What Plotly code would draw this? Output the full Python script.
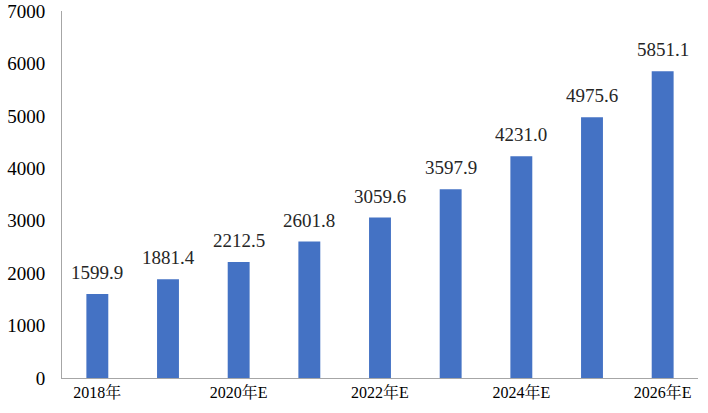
import plotly.graph_objects as go

categories = ["2018年", "2019年", "2020年E", "2021年E", "2022年E", "2023年E", "2024年E", "2025年E", "2026年E"]
values = [1599.9, 1881.4, 2212.5, 2601.8, 3059.6, 3597.9, 4231.0, 4975.6, 5851.1]
shown_ticks = categories[::2]
y_ticks = [0, 1000, 2000, 3000, 4000, 5000, 6000, 7000]

serif = "'Liberation Serif', 'Times New Roman', 'Noto Serif CJK SC', 'Noto Sans CJK SC', serif"

fig = go.Figure()
fig.add_trace(go.Bar(
    x=categories, y=values,
    marker=dict(color="#4472C4", line=dict(width=0)),
    width=0.31,
    hoverinfo="x+y",
))

for c, v in zip(categories, values):
    fig.add_annotation(
        x=c, y=v, text=f"{v:.1f}", showarrow=False,
        yanchor="bottom", yshift=9,
        font=dict(family=serif, size=19, color="#262626"),
    )

fig.update_layout(
    width=708, height=413,
    margin=dict(l=62, r=10, t=11, b=35, autoexpand=False),
    paper_bgcolor="white", plot_bgcolor="white",
    showlegend=False,
    font=dict(family=serif),
    xaxis=dict(
        type="category", automargin=False,
        tickvals=shown_ticks, ticktext=shown_ticks,
        showline=True, linecolor="#A6A6A6", linewidth=1,
        showgrid=False, ticks="",
        tickfont=dict(family=serif, size=16, color="#000000"),
        range=[-0.5, len(categories) - 0.5],
    ),
    yaxis=dict(
        range=[0, 7000], tickvals=y_ticks, automargin=False,
        showline=True, linecolor="#A6A6A6", linewidth=1,
        showgrid=False, zeroline=False, ticks="",
        ticklabelstandoff=12,
        tickfont=dict(family=serif, size=19, color="#000000"),
    ),
)

fig.write_html(
    "out.html",
    config={"displayModeBar": False},
    post_script="document.body.style.margin='0';document.body.style.overflow='hidden';",
)
